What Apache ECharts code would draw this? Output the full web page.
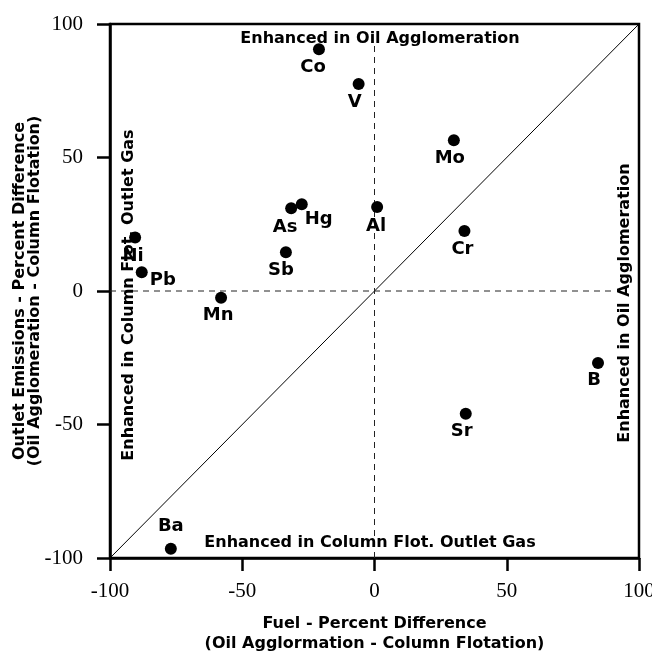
<!DOCTYPE html>
<html>
<head>
<meta charset="utf-8">
<script src="https://cdn.jsdelivr.net/npm/echarts@6/dist/echarts.min.js"></script>
<style>
  html, body { margin: 0; padding: 0; background: #fff; }
  #chart { width: 652px; height: 651px; }
</style>
</head>
<body>
<div id="chart"></div>
<script>
// Trace elements: percent difference between oil agglomeration and column flotation
const elements     = ['Co', 'V', 'Mo', 'Al', 'Cr', 'Hg', 'As', 'Sb', 'Ni', 'Pb', 'Mn', 'B', 'Sr', 'Ba'];
const fuelDiff     = [-21, -6, 30, 1, 34, -27.5, -31.5, -33.5, -90.5, -88, -58, 84.5, 34.5, -77];
const emissionDiff = [90.5, 77.5, 56.5, 31.5, 22.5, 32.5, 31, 14.5, 20, 7, -2.5, -27, -46, -96.5];

const axisTicks = [-100, -50, 0, 50, 100];

// Parity diagonal and the dashed zero reference lines
const parityLine = [[-100, -100], [100, 100]];
const zeroVertical = [[0, -100], [0, 92]];
const zeroHorizontal = [[-100, 0], [91, 0]];

// Label offsets (px) from each marker centre
const labelOffset = {
  Co: [-6, 18], V: [-4, 18], Mo: [-4, 18], Al: [-1, 19], Cr: [-2, 18],
  Hg: [17, 15], As: [-6, 19], Sb: [-5, 18], Ni: [-2, 19], Pb: [21, 8],
  Mn: [-3, 18], B: [-4, 17], Sr: [-4, 18], Ba: [0, -22]
};

const sans = 'DejaVu Sans';
const serif = 'Liberation Serif';
const markerSize = 12;

const points = elements.map((name, i) => ({
  name: name,
  value: [fuelDiff[i], emissionDiff[i]],
  label: {
    position: [markerSize / 2 + labelOffset[name][0], markerSize / 2 + labelOffset[name][1]],
    align: 'center',
    verticalAlign: 'middle'
  }
}));

const chart = echarts.init(document.getElementById('chart'), null, { renderer: 'canvas' });

const axisCommon = {
  type: 'value',
  min: -100,
  max: 100,
  interval: 50,
  axisLine: { onZero: false, lineStyle: { color: '#000', width: 2.5 } },
  axisTick: { inside: false, length: 13, lineStyle: { color: '#000', width: 2.5 } },
  splitLine: { show: false },
  nameLocation: 'middle',
  nameMoveOverlap: false,
  nameTextStyle: { fontFamily: sans, fontWeight: 'bold', fontSize: 16, color: '#000' }
};

chart.setOption({
  backgroundColor: '#fff',
  animation: false,
  grid: {
    left: 110, right: 13, top: 24, bottom: 93,
    containLabel: false,
    outerBoundsMode: 'none',
    show: true, borderColor: '#000', borderWidth: 2.5, backgroundColor: 'transparent'
  },
  xAxis: Object.assign({}, axisCommon, {
    name: 'Fuel - Percent Difference\n(Oil Agglormation - Column Flotation)',
    nameGap: 56,
    nameTextStyle: Object.assign({}, axisCommon.nameTextStyle, { lineHeight: 20 }),
    axisLabel: { margin: 23, fontFamily: serif, fontSize: 21, color: '#000' }
  }),
  yAxis: Object.assign({}, axisCommon, {
    name: 'Outlet Emissions - Percent Difference\n(Oil Agglomeration - Column Flotation)',
    nameGap: 68,
    nameRotate: 90,
    nameTextStyle: Object.assign({}, axisCommon.nameTextStyle, { lineHeight: 15 }),
    axisLabel: { margin: 27, fontFamily: serif, fontSize: 21, color: '#000' }
  }),
  series: [
    {
      type: 'line',
      data: parityLine,
      symbol: 'none',
      silent: true,
      lineStyle: { color: '#000', width: 1 },
      z: 1
    },
    {
      type: 'line',
      data: zeroVertical,
      symbol: 'none',
      silent: true,
      lineStyle: { color: '#222', width: 1, type: [6, 5] },
      z: 1
    },
    {
      type: 'line',
      data: zeroHorizontal,
      symbol: 'none',
      silent: true,
      lineStyle: { color: '#222', width: 1, type: [6, 5] },
      z: 1
    },
    {
      type: 'scatter',
      data: points,
      symbol: 'circle',
      symbolSize: markerSize,
      itemStyle: { color: '#000', opacity: 1 },
      label: {
        show: true,
        formatter: '{b}',
        fontFamily: sans,
        fontWeight: 'bold',
        fontSize: 18,
        color: '#000',
        opacity: 1
      },
      labelLayout: { hideOverlap: false },
      z: 3
    }
  ],
  graphic: [
    {
      type: 'text', x: 380, y: 39, z: 10,
      style: { text: 'Enhanced in Oil Agglomeration', font: 'bold 16px "DejaVu Sans"', fill: '#000', align: 'center', verticalAlign: 'middle' }
    },
    {
      type: 'text', x: 370, y: 543, z: 10,
      style: { text: 'Enhanced in Column Flot. Outlet Gas', font: 'bold 16px "DejaVu Sans"', fill: '#000', align: 'center', verticalAlign: 'middle' }
    },
    {
      type: 'text', x: 129, y: 295, rotation: Math.PI / 2, z: 10,
      style: { text: 'Enhanced in Column Flot. Outlet Gas', font: 'bold 16px "DejaVu Sans"', fill: '#000', align: 'center', verticalAlign: 'middle' }
    },
    {
      type: 'text', x: 625, y: 303, rotation: Math.PI / 2, z: 10,
      style: { text: 'Enhanced in Oil Agglomeration', font: 'bold 16px "DejaVu Sans"', fill: '#000', align: 'center', verticalAlign: 'middle' }
    }
  ]
});
</script>
</body>
</html>
